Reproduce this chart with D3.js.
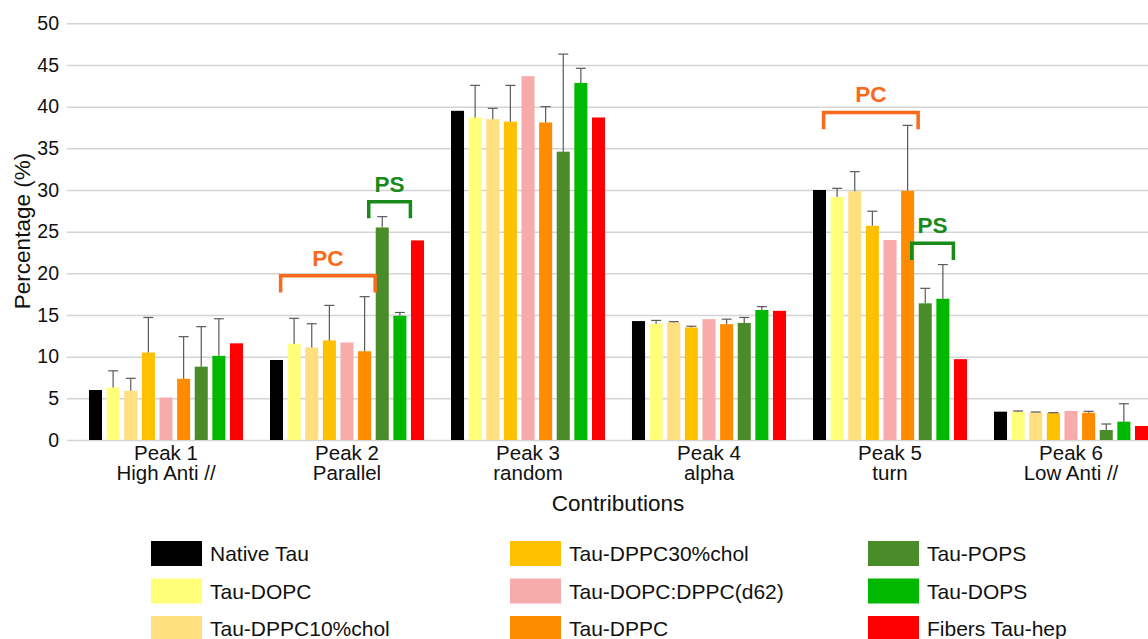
<!DOCTYPE html>
<html>
<head>
<meta charset="utf-8">
<script src="https://cdn.jsdelivr.net/npm/d3@7"></script>
<style>
  body { margin: 0; background: #fff; }
  svg { font-family: "Liberation Sans", Arial, sans-serif; }
  .grid line { stroke: #d4d4d4; stroke-width: 1.5; }
  .grid path { display: none; }
  .axis path, .axis line { display: none; }
  .axis text { font-size: 19.5px; fill: #111; }
  .xaxis text { font-size: 20.5px; }
</style>
</head>
<body>
<svg id="chart"></svg>
<script>
"use strict";
// categories on the x axis (two lines each)
const peaks = ["Peak 1", "Peak 2", "Peak 3", "Peak 4", "Peak 5", "Peak 6"];
const peakSub = ["High Anti //", "Parallel", "random", "alpha", "turn", "Low Anti //"];

const series = ["Native Tau", "Tau-DOPC", "Tau-DPPC10%chol", "Tau-DPPC30%chol",
  "Tau-DOPC:DPPC(d62)", "Tau-DPPC", "Tau-POPS", "Tau-DOPS", "Fibers Tau-hep"];
const colors = ["#000000", "#ffff7a", "#ffdf80", "#ffc000", "#f8abab",
  "#ff8c00", "#4b8c2a", "#00b800", "#ff0000"];

// values per series, one per peak
const nativeTau = [6.0, 9.6, 39.5, 14.27, 30.0, 3.4];
const tauDOPC   = [6.3, 11.55, 38.7, 13.95, 29.15, 3.4];
const tauDPPC10 = [5.9, 11.1, 38.5, 14.1, 29.85, 3.32];
const tauDPPC30 = [10.5, 11.95, 38.2, 13.5, 25.7, 3.24];
const tauD62    = [5.1, 11.7, 43.65, 14.5, 24.0, 3.48];
const tauDPPC   = [7.35, 10.65, 38.1, 13.9, 29.9, 3.27];
const tauPOPS   = [8.8, 25.5, 34.6, 14.05, 16.4, 1.2];
const tauDOPS   = [10.1, 14.9, 42.85, 15.6, 16.95, 2.2];
const fibers    = [11.6, 23.95, 38.7, 15.5, 9.7, 1.68];

// upper error bars (0 = none)
const errNone    = [0, 0, 0, 0, 0, 0];
const errDOPC    = [2.0, 3.05, 3.85, 0.4, 1.05, 0.08];
const errDPPC10  = [1.5, 2.85, 1.3, 0.1, 2.35, 0.04];
const errDPPC30  = [4.2, 4.2, 4.35, 0.15, 1.75, 0.04];
const errDPPC    = [5.05, 6.55, 1.9, 0.6, 7.85, 0.17];
const errPOPS    = [4.8, 1.3, 11.7, 0.65, 1.8, 0.72];
const errDOPS    = [4.45, 0.4, 1.75, 0.4, 4.1, 2.15];

const values = [nativeTau, tauDOPC, tauDPPC10, tauDPPC30, tauD62, tauDPPC, tauPOPS, tauDOPS, fibers];
const errors = [errNone, errDOPC, errDPPC10, errDPPC30, errNone, errDPPC, errPOPS, errDOPS, errNone];

// group brackets: label, peak, first & last series, top level
const bracketLabels = ["PC", "PS", "PC", "PS"];
const bracketPeaks  = ["Peak 2", "Peak 2", "Peak 5", "Peak 5"];
const bracketFrom   = ["Tau-DOPC", "Tau-POPS", "Tau-DOPC", "Tau-POPS"];
const bracketTo     = ["Tau-DPPC", "Tau-DOPS", "Tau-DPPC", "Tau-DOPS"];
const bracketLevel  = [19.7, 28.6, 39.3, 23.6];

const W = 1148, H = 639;
const plotLeft = 67, plotTop = 23.3, plotBottom = 440;

const svg = d3.select("#chart").attr("width", W).attr("height", H);

const y = d3.scaleLinear().domain([0, 50]).range([plotBottom, plotTop]);
const x = d3.scaleBand().domain(peaks).range([75.5, 1161.5])
    .paddingInner(0.149).paddingOuter(0.0745);
const xs = d3.scaleBand().domain(series).range([0, x.bandwidth()])
    .paddingInner(0.26).paddingOuter(0);

// gridlines
svg.append("g")
    .attr("class", "grid")
    .attr("transform", `translate(${plotLeft},0)`)
    .call(d3.axisLeft(y).tickValues(d3.range(0, 51, 5))
      .tickSize(-(W + 40 - plotLeft)).tickFormat(""));

// y axis labels
svg.append("g")
    .attr("class", "axis")
    .attr("transform", `translate(${plotLeft},0)`)
    .call(d3.axisLeft(y).tickValues(d3.range(0, 51, 5)).tickSize(0).tickPadding(8));

// x axis labels, two lines
const xAxis = svg.append("g")
    .attr("class", "axis xaxis")
    .attr("transform", `translate(0,${plotBottom})`)
    .call(d3.axisBottom(x).tickSize(0).tickPadding(0));
xAxis.selectAll(".tick text").each(function(d, i) {
    const t = d3.select(this).text(null).attr("y", 0).attr("dy", null);
    t.append("tspan").attr("x", 0).attr("y", 20).text(d);
    t.append("tspan").attr("x", 0).attr("y", 40).text(peakSub[i]);
});

// axis titles
svg.append("text")
    .attr("x", 618).attr("y", 511)
    .attr("text-anchor", "middle")
    .style("font-size", "22.5px").style("fill", "#111")
    .text("Contributions");
svg.append("text")
    .attr("transform", `translate(30,231) rotate(-90)`)
    .attr("text-anchor", "middle")
    .style("font-size", "22.5px").style("fill", "#111")
    .text("Percentage (%)");

// bars
const groups = svg.selectAll(".peak")
    .data(peaks)
  .enter().append("g")
    .attr("class", "peak")
    .attr("transform", d => `translate(${x(d)},0)`);

groups.each(function(p, pi) {
    const g = d3.select(this);
    const rows = series.map((s, si) => ({s: s, v: values[si][pi], e: errors[si][pi], c: colors[si]}));
    g.selectAll("rect")
        .data(rows)
      .enter().append("rect")
        .attr("x", d => xs(d.s))
        .attr("y", d => y(d.v))
        .attr("width", xs.bandwidth())
        .attr("height", d => y(0) - y(d.v))
        .attr("fill", d => d.c);
    const eb = g.selectAll(".err")
        .data(rows.filter(d => d.e > 0))
      .enter().append("g")
        .attr("class", "err")
        .attr("stroke", "#5a5a5a")
        .attr("stroke-width", 1.2);
    eb.append("line")
        .attr("x1", d => xs(d.s) + xs.bandwidth() / 2)
        .attr("x2", d => xs(d.s) + xs.bandwidth() / 2)
        .attr("y1", d => y(d.v))
        .attr("y2", d => y(d.v + d.e));
    eb.append("line")
        .attr("x1", d => xs(d.s) + xs.bandwidth() / 2 - 5)
        .attr("x2", d => xs(d.s) + xs.bandwidth() / 2 + 5)
        .attr("y1", d => y(d.v + d.e))
        .attr("y2", d => y(d.v + d.e));
});

// PC / PS brackets
bracketLabels.forEach(function(lab, i) {
    const col = lab === "PC" ? "#fa6a1c" : "#188a1a";
    const x1 = x(bracketPeaks[i]) + xs(bracketFrom[i]) - 7;
    const x2 = x(bracketPeaks[i]) + xs(bracketTo[i]) + xs.bandwidth() + 4;
    const yt = y(bracketLevel[i]), yb = y(bracketLevel[i] - 2);
    svg.append("path")
        .attr("d", `M${x1},${yb}V${yt}H${x2}V${yb}`)
        .attr("fill", "none")
        .attr("stroke", col)
        .attr("stroke-width", 3.5);
    svg.append("text")
        .attr("x", (x1 + x2) / 2)
        .attr("y", yt - 10)
        .attr("text-anchor", "middle")
        .style("font-size", "22.5px").style("font-weight", "bold")
        .style("fill", col)
        .text(lab);
});

// legend: 3 columns x 3 rows
const legX = [151, 510, 868], legY = [541, 578.5, 616];
const leg = svg.selectAll(".leg")
    .data(series)
  .enter().append("g")
    .attr("class", "leg")
    .attr("transform", (d, i) => `translate(${legX[Math.floor(i / 3)]},${legY[i % 3]})`);
leg.append("rect")
    .attr("width", 51).attr("height", 25)
    .attr("fill", (d, i) => colors[i]);
leg.append("text")
    .attr("x", 59).attr("y", 20)
    .style("font-size", "21px").style("fill", "#111")
    .text(d => d);
</script>
</body>
</html>
